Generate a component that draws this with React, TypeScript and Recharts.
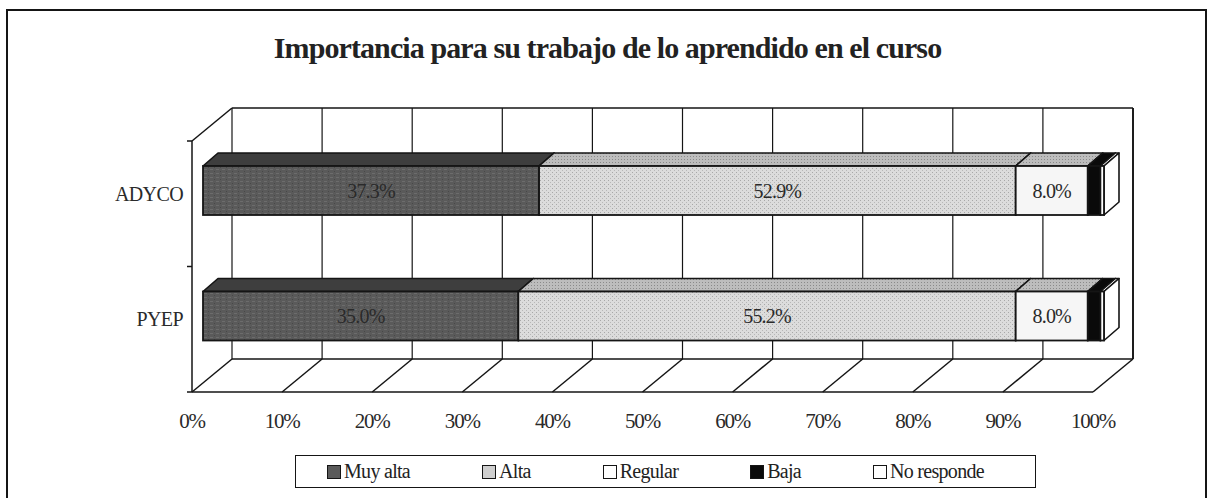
import { BarChart, Bar, XAxis, YAxis, CartesianGrid, Legend, LabelList } from 'recharts'

const categories = ['ADYCO', 'PYEP']
const muyAlta = [37.3, 35.0]
const alta = [52.9, 55.2]
const regular = [8.0, 8.0]
const baja = [1.4, 1.4]
const noResponde = [0.4, 0.4]
const xTicks = [0, 10, 20, 30, 40, 50, 60, 70, 80, 90, 100]

const data = categories.map((name, i) => ({
  name,
  muyAlta: muyAlta[i],
  alta: alta[i],
  regular: regular[i],
  baja: baja[i],
  noResponde: noResponde[i],
}))

// chart geometry (page is absolutely positioned at 0,0)
const W = 1215
const H = 498
const Y_AXIS_W = 40
const X_AXIS_H = 30
const MARGIN = { top: 108, right: 82, bottom: 109, left: 192 }
const PLOT_W = W - MARGIN.left - Y_AXIS_W - MARGIN.right
const PLOT_H = H - MARGIN.top - MARGIN.bottom - X_AXIS_H

// 3d offsets: back wall -> front of floor, back wall -> bar front, bar depth
const WALL_DX = -40
const WALL_DY = 33
const FRONT_DX = -29
const FRONT_DY = 20
const DEPTH_DX = 15
const DEPTH_DY = -13

const FONT = '"Liberation Serif", "Times New Roman", serif'
const EDGE = '#151515'

const series = [
  { key: 'muyAlta', name: 'Muy alta', front: 'url(#muyFront)', top: '#3e3e3e', side: '#2e2e2e', swatch: '#5a5a5a', label: true },
  { key: 'alta', name: 'Alta', front: 'url(#altaFront)', top: 'url(#altaTop)', side: '#9a9a9a', swatch: '#cfcfcf', label: true },
  { key: 'regular', name: 'Regular', front: '#f6f6f6', top: 'url(#altaTop)', side: '#d0d0d0', swatch: '#ffffff', label: true },
  { key: 'baja', name: 'Baja', front: '#0a0a0a', top: '#0a0a0a', side: '#0a0a0a', swatch: '#0a0a0a', label: false },
  { key: 'noResponde', name: 'No responde', front: '#ffffff', top: '#ffffff', side: '#ffffff', swatch: '#ffffff', label: false },
]

function make3DShape(front: string, top: string, side: string) {
  return (props: any) => {
    const { x, y, width, height } = props
    if (!width || width <= 0) return <g />
    const fx = x + FRONT_DX
    const fy = y + FRONT_DY
    const topPts = `${fx},${fy} ${fx + DEPTH_DX},${fy + DEPTH_DY} ${fx + width + DEPTH_DX},${fy + DEPTH_DY} ${fx + width},${fy}`
    const sidePts = `${fx + width},${fy} ${fx + width + DEPTH_DX},${fy + DEPTH_DY} ${fx + width + DEPTH_DX},${fy + height + DEPTH_DY} ${fx + width},${fy + height}`
    return (
      <g>
        <polygon points={topPts} fill={top} stroke={EDGE} strokeWidth={1.6} strokeLinejoin="round" />
        <polygon points={sidePts} fill={side} stroke={EDGE} strokeWidth={1.6} strokeLinejoin="round" />
        <rect x={fx} y={fy} width={width} height={height} fill={front} stroke={EDGE} strokeWidth={1.8} />
      </g>
    )
  }
}

function renderValueLabel(props: any) {
  const { x, y, width, height, value } = props
  return (
    <text
      x={x + FRONT_DX + width / 2}
      y={y + FRONT_DY + height / 2}
      dy="0.35em"
      textAnchor="middle"
      fontFamily={FONT}
      fontSize={20}
      letterSpacing={-0.8}
      fill="#2a2a2a"
    >
      {`${Number(value).toFixed(1)}%`}
    </text>
  )
}

function XTick(props: any) {
  const { x, y, payload, index } = props
  const fx = x + WALL_DX
  const fy = y + WALL_DY
  return (
    <g>
      {index === 0 && (
        <g stroke={EDGE} strokeWidth={1.5} fill="none">
          <line x1={x} y1={y - PLOT_H} x2={x + PLOT_W} y2={y - PLOT_H} />
          <line x1={x + PLOT_W} y1={y - PLOT_H} x2={x + PLOT_W} y2={y} />
          <line x1={x} y1={y} x2={x + PLOT_W} y2={y} />
          <line x1={x} y1={y - PLOT_H} x2={fx} y2={fy - PLOT_H} />
          <line x1={fx} y1={fy - PLOT_H} x2={fx} y2={fy} />
          <line x1={fx} y1={fy} x2={fx + PLOT_W} y2={fy} />
          <line x1={fx - 5} y1={fy - PLOT_H} x2={fx} y2={fy - PLOT_H} />
          <line x1={fx - 5} y1={fy - PLOT_H / 2} x2={fx} y2={fy - PLOT_H / 2} />
          <line x1={fx - 5} y1={fy} x2={fx} y2={fy} />
        </g>
      )}
      <line x1={x} y1={y} x2={fx} y2={fy} stroke={EDGE} strokeWidth={1.5} />
      <text
        x={fx}
        y={fy + 36}
        textAnchor="middle"
        fontFamily={FONT}
        fontSize={21}
        letterSpacing={-1.2}
        fill="#2a2a2a"
      >
        {`${payload.value}%`}
      </text>
    </g>
  )
}

function YTick(props: any) {
  const { x, y, payload } = props
  return (
    <text
      x={x - 49}
      y={y + FRONT_DY + 3}
      dy="0.35em"
      textAnchor="end"
      fontFamily={FONT}
      fontSize={20}
      letterSpacing={-0.6}
      fill="#2a2a2a"
    >
      {payload.value}
    </text>
  )
}

function LegendBox() {
  return (
    <div
      style={{
        boxSizing: 'border-box',
        width: '100%',
        height: '100%',
        border: `1.5px solid ${EDGE}`,
        display: 'flex',
        alignItems: 'center',
        paddingLeft: 31,
        gap: 72,
        fontFamily: FONT,
        fontSize: 20,
        letterSpacing: -0.7,
        color: '#222',
        background: '#fff',
      }}
    >
      {series.map((s) => (
        <div key={s.key} style={{ display: 'flex', alignItems: 'center' }}>
          <span
            style={{
              display: 'inline-block',
              width: 12,
              height: 12,
              marginRight: 3,
              background: s.swatch,
              border: `1.5px solid ${EDGE}`,
            }}
          />
          <span>{s.name}</span>
        </div>
      ))}
    </div>
  )
}

export default function App() {
  return (
    <div style={{ position: 'absolute', left: 0, top: 0, width: W, height: H, background: '#fff' }}>
      <div
        style={{
          position: 'absolute',
          left: 6,
          top: 9,
          width: 1201,
          height: 500,
          border: `2px solid ${EDGE}`,
          boxSizing: 'border-box',
        }}
      />
      <div
        style={{
          position: 'absolute',
          left: 0,
          top: 31,
          width: W,
          textAlign: 'center',
          fontFamily: FONT,
          fontWeight: 'bold',
          fontSize: 30,
          letterSpacing: -0.9,
          color: '#222',
        }}
      >
        Importancia para su trabajo de lo aprendido en el curso
      </div>
      <BarChart width={W} height={H} data={data} layout="vertical" margin={MARGIN} barSize={49}>
        <defs>
          <pattern id="muyFront" width="6" height="4" patternUnits="userSpaceOnUse">
            <rect width="6" height="4" fill="#5a5a5a" />
            <rect x="0" y="1" width="3" height="1" fill="#6c6c6c" />
            <rect x="4" y="3" width="1" height="1" fill="#484848" />
          </pattern>
          <pattern id="altaFront" width="4" height="4" patternUnits="userSpaceOnUse">
            <rect width="4" height="4" fill="#dcdcdc" />
            <rect x="0" y="0" width="1" height="1" fill="#a8a8a8" />
            <rect x="2" y="2" width="1" height="1" fill="#b8b8b8" />
          </pattern>
          <pattern id="altaTop" width="3" height="3" patternUnits="userSpaceOnUse">
            <rect width="3" height="3" fill="#bdbdbd" />
            <rect x="0" y="0" width="1" height="1" fill="#8a8a8a" />
          </pattern>
        </defs>
        <CartesianGrid horizontal={false} stroke={EDGE} strokeWidth={1.2} />
        <XAxis
          type="number"
          domain={[0, 100]}
          ticks={xTicks}
          height={X_AXIS_H}
          axisLine={false}
          tickLine={false}
          tickSize={0}
          tickMargin={0}
          interval={0}
          tick={<XTick />}
        />
        <YAxis
          type="category"
          dataKey="name"
          width={Y_AXIS_W}
          axisLine={false}
          tickLine={false}
          tickSize={0}
          tickMargin={0}
          tick={<YTick />}
        />
        <Legend
          layout="horizontal"
          verticalAlign="middle"
          align="center"
          wrapperStyle={{ left: 295, top: 455, width: 741, height: 33 }}
          content={() => <LegendBox />}
        />
        {series.map((s) => (
          <Bar
            key={s.key}
            dataKey={s.key}
            name={s.name}
            stackId="a"
            fill={s.swatch}
            isAnimationActive={false}
            shape={make3DShape(s.front, s.top, s.side)}
          >
            {s.label && <LabelList dataKey={s.key} content={renderValueLabel} />}
          </Bar>
        ))}
      </BarChart>
    </div>
  )
}
